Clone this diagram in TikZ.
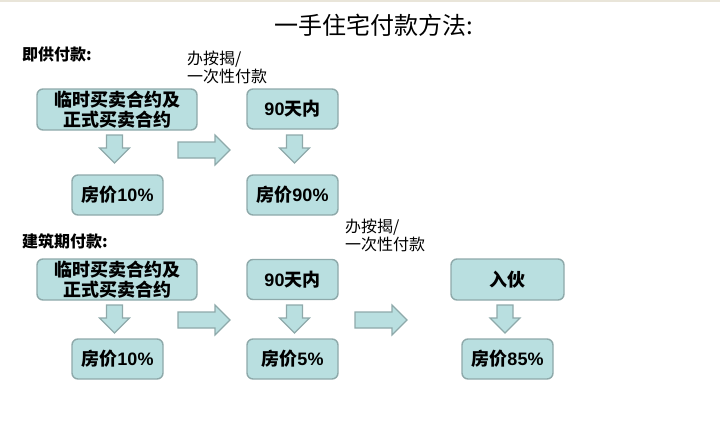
\documentclass[tikz,border=0pt]{standalone}
\usepackage{fontspec}
\newfontfamily\cjk{Noto Sans CJK SC}
\newfontfamily\lat{Liberation Sans}
\definecolor{boxfill}{HTML}{B9DFE0}
\definecolor{boxline}{HTML}{8EA9AA}
\definecolor{topline}{HTML}{E9E5D9}
\begin{document}
\begin{tikzpicture}[x=1pt,y=-1pt,
  flowbox/.style={draw=boxline, fill=boxfill, line width=1.4pt, rounded corners=6pt,
    align=center, font=\cjk\bfseries\fontsize{18}{19.5}\selectfont, inner sep=0pt},
  blockarrow/.style={draw=boxline, fill=boxfill, line width=1.2pt, line join=miter},
  heading/.style={anchor=west, font=\cjk\bfseries\fontsize{16}{19}\selectfont, inner sep=0pt},
  note/.style={anchor=north west, align=left, font=\cjk\fontsize{16}{18}\selectfont, inner sep=0pt},
  darrow/.pic={\path[blockarrow] (-8,0) -- (8,0) -- (8,13) -- (15,13) -- (0,28) -- (-15,13) -- (-8,13) -- cycle;},
  rarrow/.pic={\path[blockarrow] (0,-8) -- (37,-8) -- (37,-15) -- (52,0) -- (37,15) -- (37,8) -- (0,8) -- cycle;}
]
\useasboundingbox (0,0) rectangle (720,428);
\fill[topline] (0,0) rectangle (720,2);

% title
\node[font=\cjk\fontsize{24}{26}\selectfont, inner sep=0pt] (title) at (374,25) {一手住宅付款方法:};

% row 1
\node[heading] (h1) at (22,54) {即供付款:};
\node[note] (n1) at (187,51) {办按揭/\\一次性付款};
\node[flowbox, minimum width=160, minimum height=41] (a1) at (117,109.5) {临时买卖合约及\\正式买卖合约};
\node[flowbox, minimum width=91, minimum height=40] (b1) at (292.5,109) {{\lat\bfseries 90}天内};
\node[flowbox, minimum width=91, minimum height=40] (c1) at (117.5,195) {房价{\lat\bfseries 10\%}};
\node[flowbox, minimum width=91, minimum height=40] (d1) at (292.5,195) {房价{\lat\bfseries 90\%}};
\pic at (114.5,135) {darrow};
\pic at (294.5,135) {darrow};
\pic at (178,150) {rarrow};

% row 2
\node[heading] (h2) at (22,241) {建筑期付款:};
\node[note] (n2) at (345,219) {办按揭/\\一次性付款};
\node[flowbox, minimum width=160, minimum height=41] (a2) at (117,279.5) {临时买卖合约及\\正式买卖合约};
\node[flowbox, minimum width=91, minimum height=40] (b2) at (292.5,279.5) {{\lat\bfseries 90}天内};
\node[flowbox, minimum width=113, minimum height=41] (e2) at (507.5,279.5) {入伙};
\node[flowbox, minimum width=91, minimum height=40] (c2) at (117.5,359) {房价{\lat\bfseries 10\%}};
\node[flowbox, minimum width=91, minimum height=40] (d2) at (292.5,359) {房价{\lat\bfseries 5\%}};
\node[flowbox, minimum width=91, minimum height=40] (f2) at (507.5,359) {房价{\lat\bfseries 85\%}};
\pic at (114.5,305) {darrow};
\pic at (294.5,305) {darrow};
\pic at (505,305) {darrow};
\pic at (178,320) {rarrow};
\pic at (355,320) {rarrow};
\end{tikzpicture}
\end{document}
